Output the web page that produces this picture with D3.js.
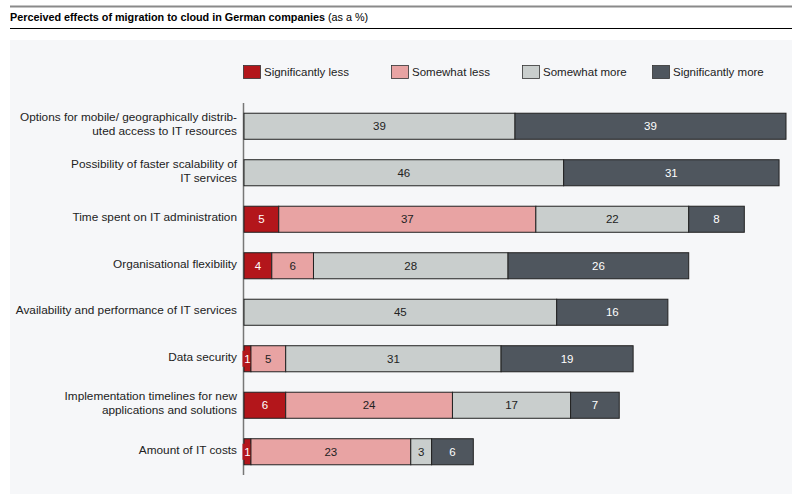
<!DOCTYPE html>
<html><head><meta charset="utf-8">
<script src="https://cdn.jsdelivr.net/npm/d3@7"></script>
<style>body{margin:0;background:#fff;}svg{display:block;font-family:"Liberation Sans",Arial,sans-serif;}</style>
</head><body><svg id="c" width="792" height="494"></svg>
<script>
const categories = [
  ["Options for mobile/ geographically distrib-","uted access to IT resources"],
  ["Possibility of faster scalability of","IT services"],
  ["Time spent on IT administration"],
  ["Organisational flexibility"],
  ["Availability and performance of IT services"],
  ["Data security"],
  ["Implementation timelines for new","applications and solutions"],
  ["Amount of IT costs"]
];
const seriesNames = ["Significantly less","Somewhat less","Somewhat more","Significantly more"];
const sigLess  = [0,0,5,4,0,1,6,1];
const someLess = [0,0,37,6,0,5,24,23];
const someMore = [39,46,22,28,45,31,17,3];
const sigMore  = [39,31,8,26,16,19,7,6];
const colors = ["#b3161b","#e8a3a3","#c9cecd","#4f565e"];
const textColors = ["#fff","#222","#222","#fff"];

const svg = d3.select("#c");
svg.append("rect").attr("x",10).attr("y",40).attr("width",782).attr("height",454).attr("fill","#f6f7f9");
svg.append("line").attr("x1",10).attr("x2",792).attr("y1",6.5).attr("y2",6.5).attr("stroke","#8a8a8a").attr("stroke-width",2);
svg.append("line").attr("x1",10).attr("x2",792).attr("y1",28.5).attr("y2",28.5).attr("stroke","#000").attr("stroke-width",1.2);
const t = svg.append("text").attr("x",10).attr("y",21).attr("font-size",10.8).attr("fill","#000");
t.append("tspan").attr("font-weight","bold").text("Perceived effects of migration to cloud in German companies");
t.append("tspan").text(" (as a %)");

const series = [sigLess, someLess, someMore, sigMore];
const rows = categories.map((c,i)=>({i, vals: series.map(s=>s[i])}));
const x = d3.scaleLinear().domain([0,78]).range([244,786]);
const y = d3.scaleBand().domain(d3.range(categories.length)).range([103,475]).paddingInner(0.44).paddingOuter(0.22);

svg.append("line").attr("x1",243.5).attr("x2",243.5).attr("y1",103).attr("y2",475).attr("stroke","#777").attr("stroke-width",1.5);

// legend
const lx = [243,391,522,652];
seriesNames.forEach((n,k)=>{
  svg.append("rect").attr("x",lx[k]+0.5).attr("y",65.5).attr("width",17).attr("height",13).attr("fill",colors[k]).attr("stroke","#333").attr("stroke-width",0.8);
  svg.append("text").attr("x",lx[k]+21).attr("y",76).attr("font-size",11.5).attr("fill","#222").text(n);
});

rows.forEach(r=>{
  let acc = 0;
  const g = svg.append("g");
  r.vals.forEach((v,k)=>{
    if(!v){return;}
    const x0 = x(acc), x1 = x(acc+v);
    g.append("rect").attr("x",x0).attr("y",y(r.i)).attr("width",x1-x0).attr("height",y.bandwidth())
      .attr("fill",colors[k]).attr("stroke","#222").attr("stroke-width",1);
    const cx = (x0+x1)/2, cy = y(r.i)+y.bandwidth()/2;
    if(x1-x0 < 12){
      g.append("rect").attr("x",cx-5).attr("y",cy-8).attr("width",10).attr("height",16).attr("fill",colors[k]);
    }
    g.append("text").attr("x",cx).attr("y",cy+4).attr("text-anchor","middle").attr("font-size",11.5)
      .attr("fill",textColors[k]).text(v);
    acc += v;
  });
  const lines = categories[r.i];
  const cy = y(r.i)+y.bandwidth()/2 - 2;
  lines.forEach((ln,j)=>{
    svg.append("text").attr("x",237).attr("y",cy+4 + (j-(lines.length-1)/2)*14)
      .attr("text-anchor","end").attr("font-size",11.8).attr("fill","#222").text(ln);
  });
});
</script></body></html>
